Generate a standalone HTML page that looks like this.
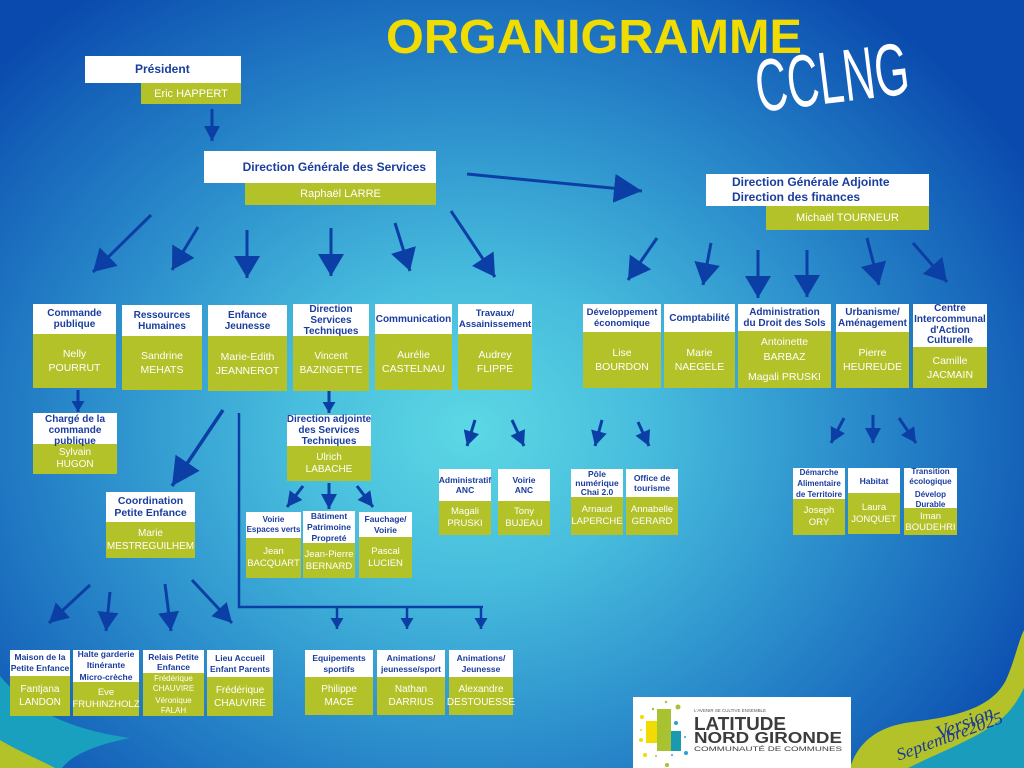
<!DOCTYPE html>
<html><head><meta charset="utf-8">
<style>
*{margin:0;padding:0;box-sizing:border-box}
html,body{width:1024px;height:768px;overflow:hidden}
body{position:relative;font-family:"Liberation Sans",sans-serif;
background:radial-gradient(ellipse 640px 540px at 470px 430px,#5cd8e4 0%,#47bcdd 28%,#2c8fcc 58%,#1766bb 84%,#0a4aae 100%);}
svg.bg{position:absolute;left:0;top:0}
.b{position:absolute}
.h{position:relative;z-index:2;background:#fff;color:#1a3d9e;font-weight:bold;display:flex;align-items:center;justify-content:center;text-align:center;font-size:10px;line-height:11px;white-space:nowrap}
.g{position:relative;z-index:1;background:#b3c229;color:#fff;display:flex;align-items:center;justify-content:center;text-align:center;font-size:10.5px;line-height:14px;white-space:nowrap}
.s .h{font-size:8.5px;line-height:10px}
.s .g{font-size:9.5px;line-height:12px}
.sp{height:5px}
</style></head><body>
<svg class="bg" width="1024" height="768" viewBox="0 0 1024 768">
<defs>
<marker id="mB" markerUnits="userSpaceOnUse" markerWidth="23" markerHeight="26" refX="22" refY="13" orient="auto"><path d="M0,0 L22,13 L0,26 Z" fill="#0c3fa6"/></marker>
<marker id="mX" markerUnits="userSpaceOnUse" markerWidth="29" markerHeight="29" refX="28" refY="14.5" orient="auto"><path d="M0,0 L28,14.5 L0,29 Z" fill="#0c3fa6"/></marker>
<marker id="mM" markerUnits="userSpaceOnUse" markerWidth="16" markerHeight="16" refX="15" refY="8" orient="auto"><path d="M0,0 L15,8 L0,16 Z" fill="#0c3fa6"/></marker>
<marker id="mS" markerUnits="userSpaceOnUse" markerWidth="12" markerHeight="13" refX="11" refY="6.5" orient="auto"><path d="M0,0 L11,6.5 L0,13 Z" fill="#0c3fa6"/></marker>
<marker id="mL" markerUnits="userSpaceOnUse" markerWidth="20" markerHeight="21" refX="19" refY="10.5" orient="auto"><path d="M0,0 L19,10.5 L0,21 Z" fill="#0c3fa6"/></marker>
</defs>
<path d="M0,676 C25,705 60,728 130,738 C95,745 72,755 62,768 L0,768 Z" fill="#1aa0bf"/>
<path d="M0,740 C20,752 40,760 55,768 L0,768 Z" fill="#b3c229"/>
<path d="M850,768 C858,742 878,726 912,722 C955,717 992,708 1006,680 C1015,660 1018,642 1024,630 L1024,768 Z" fill="#b3c229"/>
<path d="M908,768 C940,752 978,738 1000,720 C1012,710 1019,698 1024,688 L1024,768 Z" fill="#1a9dbd"/>
<g stroke="#0c3fa6" stroke-width="3" fill="none">
<line x1="212" y1="109" x2="212" y2="141" marker-end="url(#mM)"/>
<line x1="467" y1="174" x2="642" y2="191" marker-end="url(#mX)"/>
<line x1="151" y1="215" x2="93" y2="272" marker-end="url(#mB)"/>
<line x1="198" y1="227" x2="172" y2="270" marker-end="url(#mB)"/>
<line x1="247" y1="230" x2="247" y2="278" marker-end="url(#mB)"/>
<line x1="331" y1="228" x2="331" y2="276" marker-end="url(#mB)"/>
<line x1="395" y1="223" x2="410" y2="271" marker-end="url(#mB)"/>
<line x1="451" y1="211" x2="495" y2="277" marker-end="url(#mB)"/>
<line x1="657" y1="238" x2="628" y2="280" marker-end="url(#mB)"/>
<line x1="711" y1="243" x2="703" y2="285" marker-end="url(#mB)"/>
<line x1="758" y1="250" x2="758" y2="298" marker-end="url(#mB)"/>
<line x1="807" y1="250" x2="807" y2="297" marker-end="url(#mB)"/>
<line x1="867" y1="238" x2="879" y2="285" marker-end="url(#mB)"/>
<line x1="913" y1="243" x2="947" y2="282" marker-end="url(#mB)"/>
<line x1="78" y1="390" x2="78" y2="412" marker-end="url(#mS)"/>
<line x1="223" y1="410" x2="172" y2="486" stroke-width="3.5" marker-end="url(#mX)"/>
<line x1="329" y1="391" x2="329" y2="413" marker-end="url(#mS)"/>
<polyline points="239,413 239,607 483,607" stroke-width="2.5"/>
<line x1="337" y1="607" x2="337" y2="629" stroke-width="2.5" marker-end="url(#mS)"/>
<line x1="407" y1="607" x2="407" y2="629" stroke-width="2.5" marker-end="url(#mS)"/>
<line x1="481" y1="607" x2="481" y2="629" stroke-width="2.5" marker-end="url(#mS)"/>
<line x1="303" y1="486" x2="287" y2="507" marker-end="url(#mM)"/>
<line x1="329" y1="483" x2="329" y2="509" marker-end="url(#mM)"/>
<line x1="357" y1="486" x2="373" y2="507" marker-end="url(#mM)"/>
<line x1="475" y1="420" x2="467" y2="446" marker-end="url(#mM)"/>
<line x1="512" y1="420" x2="524" y2="446" marker-end="url(#mM)"/>
<line x1="602" y1="420" x2="595" y2="446" marker-end="url(#mM)"/>
<line x1="638" y1="422" x2="649" y2="446" marker-end="url(#mM)"/>
<line x1="844" y1="418" x2="831" y2="443" marker-end="url(#mM)"/>
<line x1="873" y1="415" x2="873" y2="443" marker-end="url(#mM)"/>
<line x1="899" y1="418" x2="916" y2="443" marker-end="url(#mM)"/>
<line x1="90" y1="585" x2="49" y2="623" marker-end="url(#mL)"/>
<line x1="110" y1="592" x2="106" y2="631" marker-end="url(#mL)"/>
<line x1="165" y1="584" x2="171" y2="631" marker-end="url(#mL)"/>
<line x1="192" y1="580" x2="232" y2="623" marker-end="url(#mL)"/>
</g>
<text x="386" y="53" font-family="Liberation Sans, sans-serif" font-weight="bold" font-size="48" fill="#f0dc00" textLength="416" lengthAdjust="spacingAndGlyphs">ORGANIGRAMME</text>
<text x="754" y="103" font-family="Liberation Sans Narrow, Liberation Sans, sans-serif" font-size="74" fill="#fff" textLength="154" lengthAdjust="spacingAndGlyphs" transform="rotate(-7 830 70)">CCLNG</text>
<rect x="633" y="697" width="218" height="71" fill="#fff"/>
<rect x="646" y="721" width="11" height="22" fill="#f0dc00"/>
<rect x="657" y="709" width="14" height="42" fill="#a8c231"/>
<rect x="671" y="731" width="10" height="20" fill="#1a9ab0"/>
<g fill="#a8c231"><circle cx="678" cy="707" r="2.5"/><circle cx="666" cy="702" r="1.2"/><circle cx="653" cy="709" r="1.2"/><circle cx="667" cy="765" r="2"/><circle cx="656" cy="756" r="1"/></g>
<g fill="#f0dc00"><circle cx="642" cy="717" r="2"/><circle cx="641" cy="740" r="2"/><circle cx="645" cy="755" r="2"/><circle cx="641" cy="730" r="1"/></g>
<g fill="#2aa0d8"><circle cx="686" cy="753" r="2"/><circle cx="676" cy="723" r="2"/><circle cx="685" cy="737" r="1"/><circle cx="672" cy="755" r="1"/></g>
<text x="694" y="712" font-family="Liberation Sans, sans-serif" font-size="4.5" fill="#555" textLength="72" lengthAdjust="spacingAndGlyphs">L'AVENIR SE CULTIVE ENSEMBLE</text>
<text x="694" y="730" font-family="Liberation Sans, sans-serif" font-weight="bold" font-size="18" fill="#3c3c3e" textLength="92" lengthAdjust="spacingAndGlyphs">LATITUDE</text>
<text x="694" y="743" font-family="Liberation Sans, sans-serif" font-weight="bold" font-size="15.5" fill="#3c3c3e" textLength="148" lengthAdjust="spacingAndGlyphs">NORD GIRONDE</text>
<text x="694" y="751" font-family="Liberation Sans, sans-serif" font-size="6" fill="#3c3c3e" textLength="148" lengthAdjust="spacingAndGlyphs">COMMUNAUTÉ DE COMMUNES</text>
<text x="935" y="733" font-family="Liberation Serif, serif" font-style="italic" font-size="20" fill="#1b3a9a" transform="rotate(-22 955 725)">Version</text>
<text x="898" y="760" font-family="Liberation Serif, serif" font-style="italic" font-size="17" fill="#1b3a9a" textLength="112" lengthAdjust="spacingAndGlyphs" transform="rotate(-20 900 758)">Septembre2025</text>
</svg>

<div class="b" style="left:85px;top:56px;width:156px"><div class="h" style="height:27px;font-size:12px;justify-content:flex-start;padding-left:50px"><div>Président</div></div></div>
<div class="b" style="left:141px;top:83px;width:100px"><div class="g" style="height:21px;font-size:11px"><div>Eric HAPPERT</div></div></div>
<div class="b" style="left:204px;top:151px;width:232px"><div class="h" style="height:32px;font-size:12px;justify-content:flex-end;padding-right:10px"><div>Direction Générale des Services</div></div></div>
<div class="b" style="left:245px;top:183px;width:191px"><div class="g" style="height:22px;font-size:11px"><div>Raphaël LARRE</div></div></div>
<div class="b" style="left:706px;top:174px;width:223px"><div class="h" style="height:32px;font-size:12px;line-height:15px;justify-content:flex-start;text-align:left;padding-left:26px"><div>Direction Générale Adjointe<br>Direction des finances</div></div></div>
<div class="b" style="left:766px;top:206px;width:163px"><div class="g" style="height:24px;font-size:11px"><div>Michaël TOURNEUR</div></div></div>

<div class="b" style="left:33px;top:304px;width:83px"><div class="h" style="height:30px"><div>Commande<br>publique</div></div><div class="g" style="height:54px"><div>Nelly<br>POURRUT</div></div></div>
<div class="b" style="left:122px;top:305px;width:80px"><div class="h" style="height:31px"><div>Ressources<br>Humaines</div></div><div class="g" style="height:54px"><div>Sandrine<br>MEHATS</div></div></div>
<div class="b" style="left:208px;top:305px;width:79px"><div class="h" style="height:31px"><div>Enfance<br>Jeunesse</div></div><div class="g" style="height:55px"><div>Marie-Edith<br>JEANNEROT</div></div></div>
<div class="b" style="left:293px;top:304px;width:76px"><div class="h" style="height:32px"><div>Direction<br>Services<br>Techniques</div></div><div class="g" style="height:55px;font-size:10px"><div>Vincent<br>BAZINGETTE</div></div></div>
<div class="b" style="left:375px;top:304px;width:77px"><div class="h" style="height:30px"><div>Communication</div></div><div class="g" style="height:56px"><div>Aurélie<br>CASTELNAU</div></div></div>
<div class="b" style="left:458px;top:304px;width:74px"><div class="h" style="height:30px;font-size:9.5px"><div>Travaux/<br>Assainissement</div></div><div class="g" style="height:56px"><div>Audrey<br>FLIPPE</div></div></div>

<div class="b" style="left:583px;top:304px;width:78px"><div class="h" style="height:28px;font-size:9.5px"><div>Développement<br>économique</div></div><div class="g" style="height:56px"><div>Lise<br>BOURDON</div></div></div>
<div class="b" style="left:664px;top:304px;width:71px"><div class="h" style="height:28px"><div>Comptabilité</div></div><div class="g" style="height:56px"><div>Marie<br>NAEGELE</div></div></div>
<div class="b" style="left:738px;top:304px;width:93px"><div class="h" style="height:27px"><div>Administration<br>du Droit des Sols</div></div><div class="g" style="height:57px;line-height:15px"><div>Antoinette<br>BARBAZ<div class="sp"></div>Magali PRUSKI</div></div></div>
<div class="b" style="left:836px;top:304px;width:73px"><div class="h" style="height:28px"><div>Urbanisme/<br>Aménagement</div></div><div class="g" style="height:56px"><div>Pierre<br>HEUREUDE</div></div></div>
<div class="b" style="left:913px;top:304px;width:74px"><div class="h" style="height:43px;line-height:10.7px"><div>Centre<br>Intercommunal<br>d'Action<br>Culturelle</div></div><div class="g" style="height:41px"><div>Camille<br>JACMAIN</div></div></div>

<div class="b" style="left:33px;top:413px;width:84px"><div class="h" style="height:31px;align-items:flex-start;padding-top:1px"><div>Chargé de la<br>commande<br>publique</div></div><div class="g" style="height:30px;font-size:10px;line-height:12px"><div>Sylvain<br>HUGON</div></div></div>
<div class="b" style="left:106px;top:492px;width:89px"><div class="h" style="height:30px;font-size:10.5px;line-height:12px"><div>Coordination<br>Petite Enfance</div></div><div class="g" style="height:36px;font-size:10px;line-height:13px"><div>Marie<br>MESTREGUILHEM</div></div></div>
<div class="b" style="left:287px;top:415px;width:84px"><div class="h" style="height:31px"><div>Direction adjointe<br>des Services<br>Techniques</div></div><div class="g" style="height:35px;font-size:10px;line-height:12px"><div>Ulrich<br>LABACHE</div></div></div>
<div class="b s" style="left:246px;top:512px;width:55px"><div class="h" style="height:26px;font-size:8px"><div>Voirie<br>Espaces verts</div></div><div class="g" style="height:40px"><div>Jean<br>BACQUART</div></div></div>
<div class="b s" style="left:303px;top:511px;width:52px"><div class="h" style="height:32px;line-height:11px"><div>Bâtiment<br>Patrimoine<br>Propreté</div></div><div class="g" style="height:35px"><div>Jean-Pierre<br>BERNARD</div></div></div>
<div class="b s" style="left:359px;top:512px;width:53px"><div class="h" style="height:25px;line-height:11px"><div>Fauchage/<br>Voirie</div></div><div class="g" style="height:41px"><div>Pascal<br>LUCIEN</div></div></div>

<div class="b s" style="left:439px;top:469px;width:52px"><div class="h" style="height:32px"><div>Administratif<br>ANC</div></div><div class="g" style="height:34px"><div>Magali<br>PRUSKI</div></div></div>
<div class="b s" style="left:498px;top:469px;width:52px"><div class="h" style="height:32px"><div>Voirie<br>ANC</div></div><div class="g" style="height:34px"><div>Tony<br>BUJEAU</div></div></div>
<div class="b s" style="left:571px;top:469px;width:52px"><div class="h" style="height:28px;line-height:9px"><div>Pôle<br>numérique<br>Chai 2.0</div></div><div class="g" style="height:38px"><div>Arnaud<br>LAPERCHE</div></div></div>
<div class="b s" style="left:626px;top:469px;width:52px"><div class="h" style="height:28px"><div>Office de<br>tourisme</div></div><div class="g" style="height:38px"><div>Annabelle<br>GERARD</div></div></div>
<div class="b s" style="left:793px;top:468px;width:52px"><div class="h" style="height:31px;font-size:8px;line-height:11px"><div>Démarche<br>Alimentaire<br>de Territoire</div></div><div class="g" style="height:36px"><div>Joseph<br>ORY</div></div></div>
<div class="b s" style="left:848px;top:468px;width:52px"><div class="h" style="height:25px"><div>Habitat</div></div><div class="g" style="height:41px"><div>Laura<br>JONQUET</div></div></div>
<div class="b s" style="left:904px;top:468px;width:53px"><div class="h" style="height:40px;font-size:8px;line-height:10px"><div>Transition<br>écologique<div style="height:3px"></div>Dévelop<br>Durable</div></div><div class="g" style="height:27px;line-height:11px"><div>Iman<br>BOUDEHRI</div></div></div>

<div class="b s" style="left:10px;top:650px;width:60px"><div class="h" style="height:26px;line-height:11px"><div>Maison de la<br>Petite Enfance</div></div><div class="g" style="height:40px;font-size:10px;line-height:13px"><div>Fantjana<br>LANDON</div></div></div>
<div class="b s" style="left:73px;top:650px;width:66px"><div class="h" style="height:32px;line-height:11.5px"><div>Halte garderie<br>Itinérante<br>Micro-crèche</div></div><div class="g" style="height:34px;font-size:9.5px"><div>Eve<br>FRUHINZHOLZ</div></div></div>
<div class="b s" style="left:143px;top:650px;width:61px"><div class="h" style="height:23px"><div>Relais Petite<br>Enfance</div></div><div class="g" style="height:43px;font-size:8px;line-height:9.5px"><div>Frédérique<br>CHAUVIRE<div style="height:3px"></div>Véronique<br>FALAH</div></div></div>
<div class="b s" style="left:207px;top:650px;width:66px"><div class="h" style="height:27px;line-height:11px"><div>Lieu Accueil<br>Enfant Parents</div></div><div class="g" style="height:39px;font-size:10px;line-height:13px"><div>Frédérique<br>CHAUVIRE</div></div></div>
<div class="b s" style="left:305px;top:650px;width:68px"><div class="h" style="height:27px;line-height:11px"><div>Equipements<br>sportifs</div></div><div class="g" style="height:38px;font-size:10px;line-height:13px"><div>Philippe<br>MACE</div></div></div>
<div class="b s" style="left:377px;top:650px;width:68px"><div class="h" style="height:27px;line-height:11px"><div>Animations/<br>jeunesse/sport</div></div><div class="g" style="height:38px;font-size:10px;line-height:13px"><div>Nathan<br>DARRIUS</div></div></div>
<div class="b s" style="left:449px;top:650px;width:64px"><div class="h" style="height:27px;line-height:11px"><div>Animations/<br>Jeunesse</div></div><div class="g" style="height:38px;font-size:10px;line-height:13px"><div>Alexandre<br>DESTOUESSE</div></div></div>
</body></html>
